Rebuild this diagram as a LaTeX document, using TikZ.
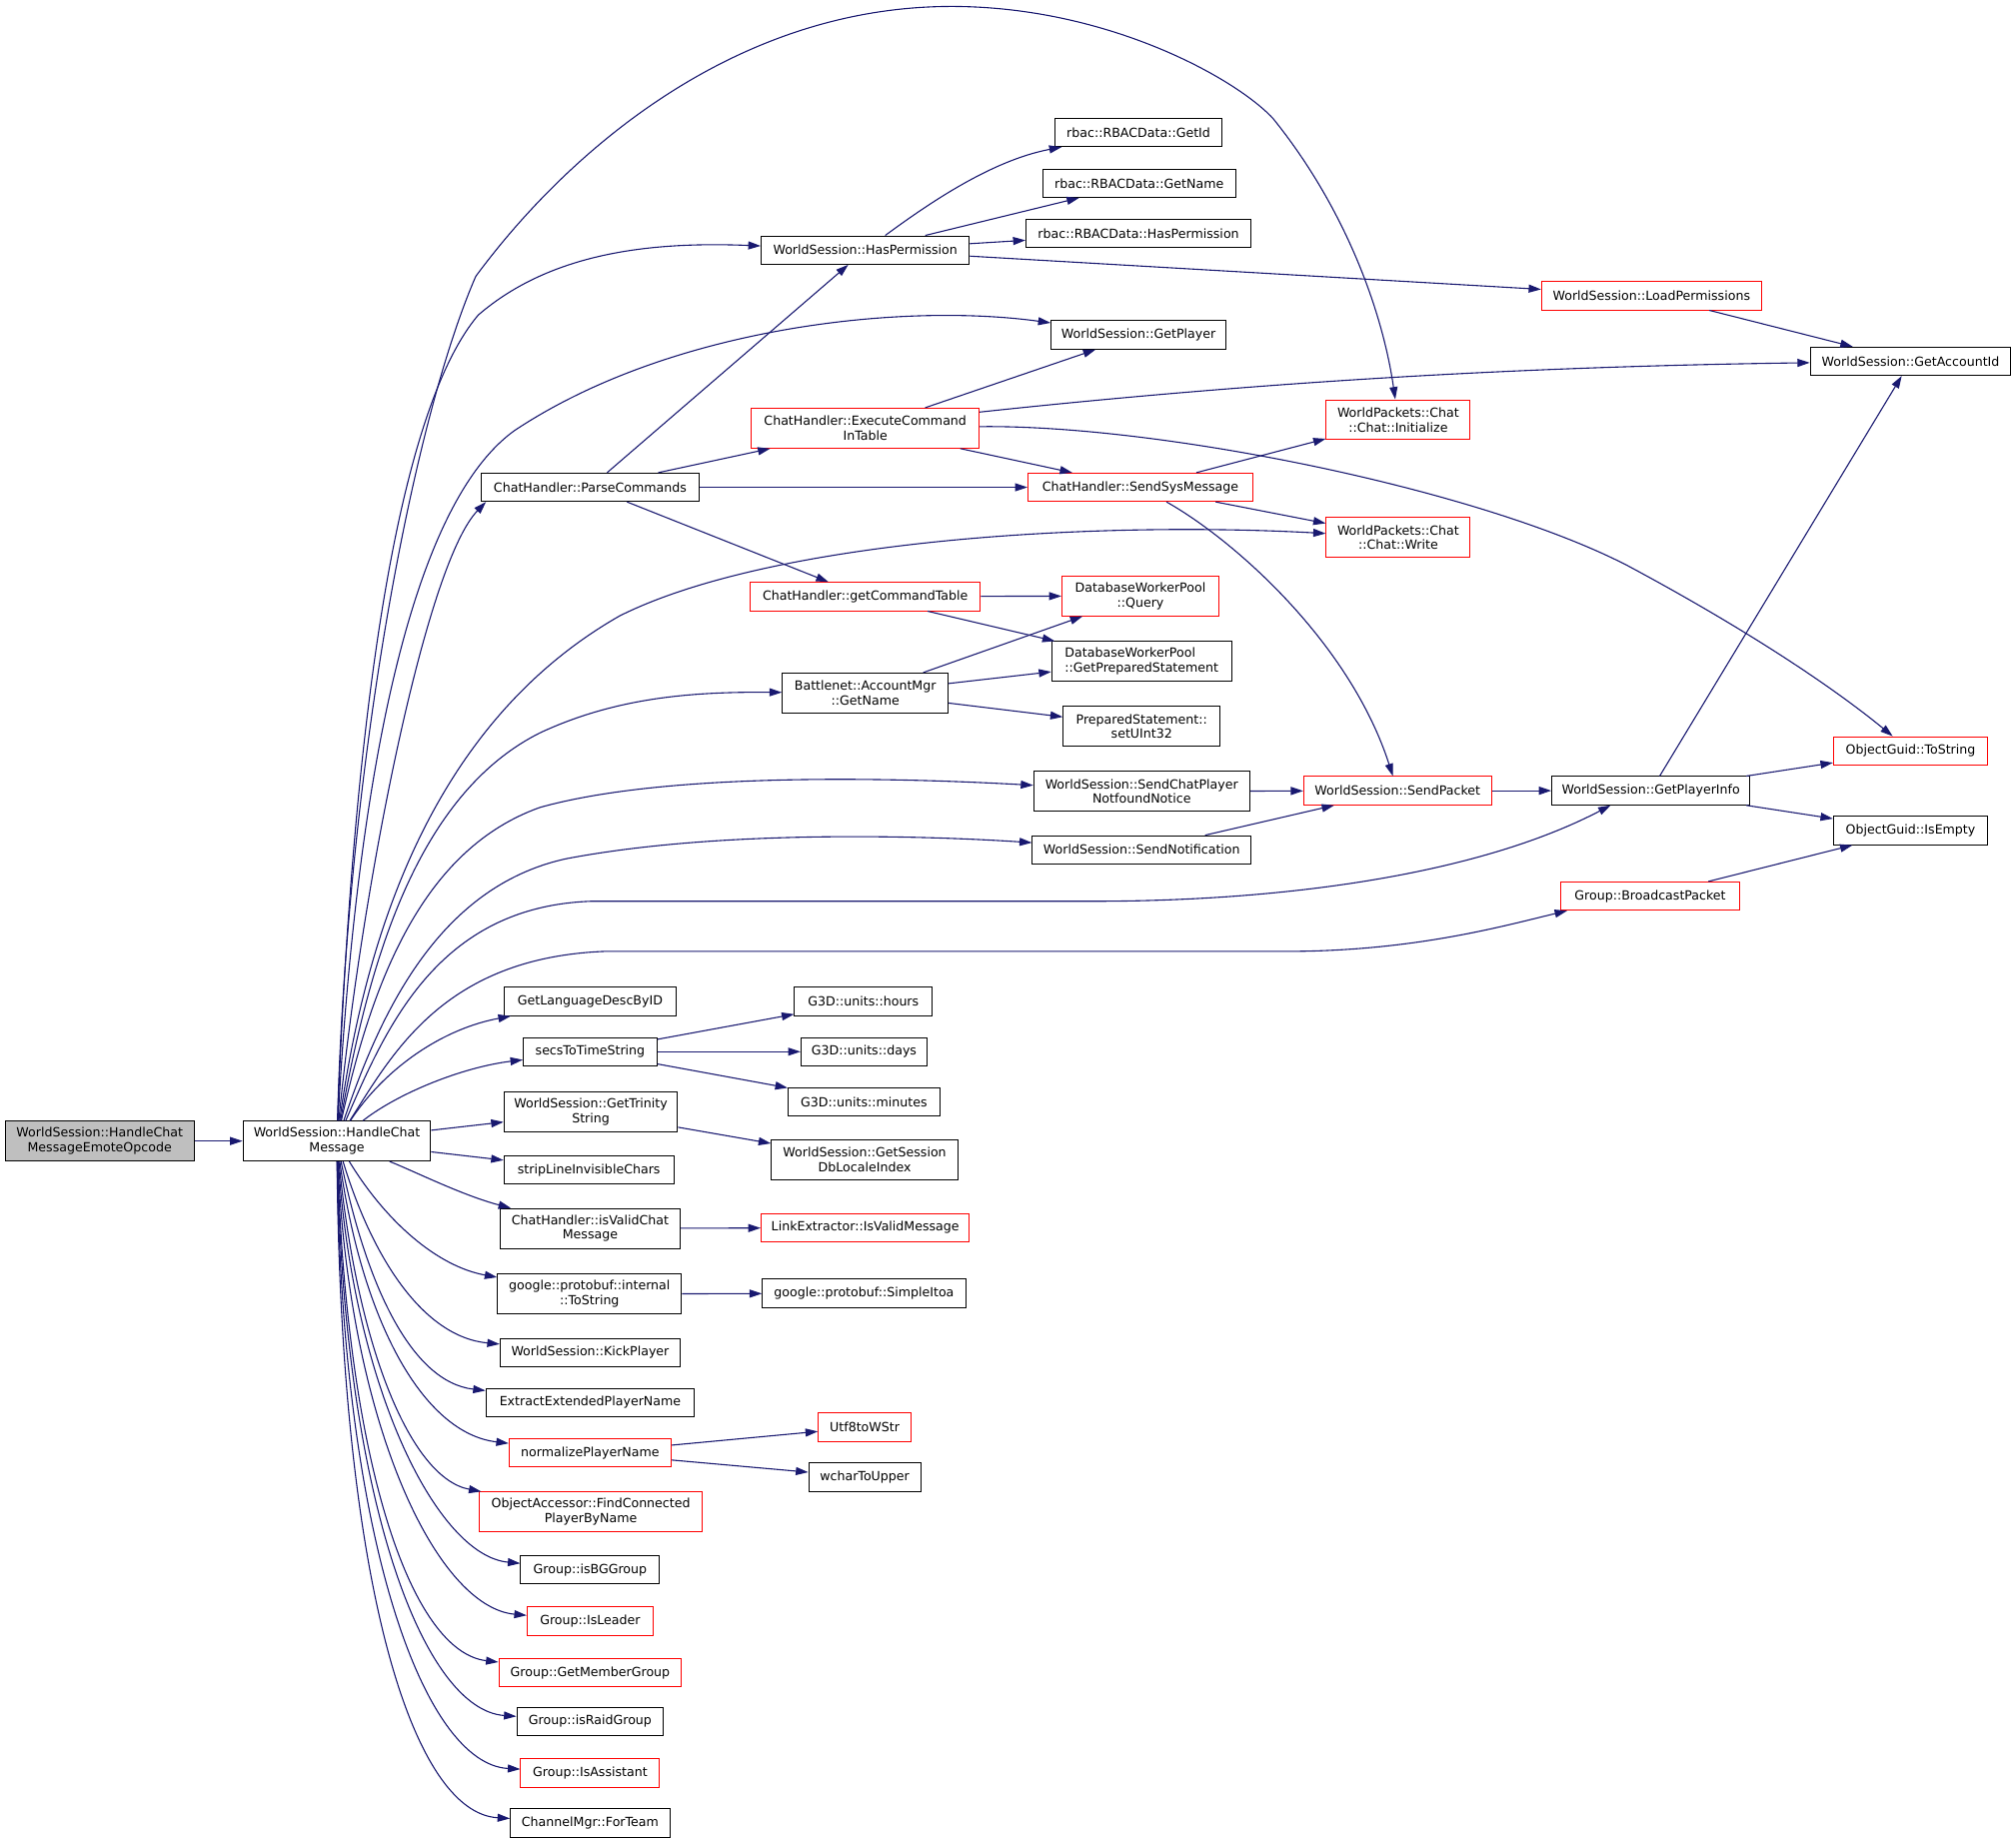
\documentclass[tikz,border=0pt]{standalone}
\usepackage{fontspec}
\setmainfont{DejaVu Sans}
\usetikzlibrary{arrows.meta}
\definecolor{edgeblue}{RGB}{25,25,112}
\definecolor{rootgray}{RGB}{191,191,191}
\begin{document}
\begin{tikzpicture}[x=0.6432pt,y=0.6432pt,yscale=-1,xscale=1,
	fn/.style={draw=black,line width=0.5pt,fill=white,font=\fontsize{6.3}{7.4}\selectfont,align=center,inner xsep=2pt,inner ysep=2pt,minimum height=22*0.6432pt,minimum width=#1*0.6432pt},
	fnred/.style={fn=#1,draw=red},
	twoline/.style={minimum height=31*0.6432pt},
	callarrow/.style={draw=edgeblue,line width=0.55pt,-{Triangle[length=6.2pt,width=4pt]}}]
	\useasboundingbox (0,0) rectangle (1568,1434);
	\node[fn=147,twoline,fill=rootgray] (hcmeo) at (77.5,887.5) {WorldSession::HandleChat\\MessageEmoteOpcode};
	\node[fn=146,twoline] (hcm) at (262,887.5) {WorldSession::HandleChat\\Message};
	\node[fn=162] (hasperm) at (673,194.5) {WorldSession::HasPermission};
	\node[fn=130] (getid) at (885.5,103) {rbac::RBACData::GetId};
	\node[fn=150] (getname) at (886,142.5) {rbac::RBACData::GetName};
	\node[fn=175] (rbachasperm) at (885.5,181.5) {rbac::RBACData::HasPermission};
	\node[fnred=171] (loadperm) at (1284.5,230) {WorldSession::LoadPermissions};
	\node[fn=136] (getplayer) at (885.5,260.5) {WorldSession::GetPlayer};
	\node[fn=156] (getaccountid) at (1486,281) {WorldSession::GetAccountId};
	\node[fnred=177,twoline] (execcmd) at (673,333) {ChatHandler::ExecuteCommand\\InTable};
	\node[fnred=112,twoline] (initialize) at (1087.5,326.5) {WorldPackets::Chat\\::Chat::Initialize};
	\node[fn=170] (parsecmd) at (459,379) {ChatHandler::ParseCommands};
	\node[fnred=175] (sendsys) at (887,379) {ChatHandler::SendSysMessage};
	\node[fnred=112,twoline] (chatwrite) at (1087.5,418) {WorldPackets::Chat\\::Chat::Write};
	\node[fnred=179] (getcmdtable) at (673,464) {ChatHandler::getCommandTable};
	\node[fnred=122,twoline] (dbquery) at (887,463.5) {DatabaseWorkerPool\\::Query};
	\node[fn=140,twoline,align=left] (getprepstmt) at (888,514.5) {DatabaseWorkerPool\\::GetPreparedStatement};
	\node[fn=129,twoline] (bnetgetname) at (673,539) {Battlenet::AccountMgr\\::GetName};
	\node[fn=122,twoline] (setuint32) at (888,565) {PreparedStatement::\\setUInt32};
	\node[fnred=120] (guidtostring) at (1486,584) {ObjectGuid::ToString};
	\node[fn=168,twoline] (sendchatpnf) at (888,615.5) {WorldSession::SendChatPlayer\\NotfoundNotice};
	\node[fnred=146] (sendpacket) at (1087,615) {WorldSession::SendPacket};
	\node[fn=154] (getplayerinfo) at (1284,615) {WorldSession::GetPlayerInfo};
	\node[fn=120] (guidisempty) at (1486,646) {ObjectGuid::IsEmpty};
	\node[fn=170] (sendnotif) at (888,661) {WorldSession::SendNotification};
	\node[fnred=139] (broadcast) at (1283.5,697) {Group::BroadcastPacket};
	\node[fn=134] (getlang) at (459,779) {GetLanguageDescByID};
	\node[fn=107] (g3dhours) at (671.5,779) {G3D::units::hours};
	\node[fn=104] (secstotime) at (459,818) {secsToTimeString};
	\node[fn=98] (g3ddays) at (672,818) {G3D::units::days};
	\node[fn=118] (g3dminutes) at (672,857) {G3D::units::minutes};
	\node[fn=135,twoline] (gettrinity) at (459.5,865) {WorldSession::GetTrinity\\String};
	\node[fn=145,twoline] (getsessiondb) at (672.5,902) {WorldSession::GetSession\\DbLocaleIndex};
	\node[fn=132] (stripline) at (458,910) {stripLineInvisibleChars};
	\node[fn=140,twoline] (isvalidchat) at (459,955.5) {ChatHandler::isValidChat\\Message};
	\node[fnred=162] (linkextr) at (673,955) {LinkExtractor::IsValidMessage};
	\node[fn=143,twoline] (pbtostring) at (458.5,1006.5) {google::protobuf::internal\\::ToString};
	\node[fn=158] (simpleitoa) at (672,1006) {google::protobuf::SimpleItoa};
	\node[fn=140] (kickplayer) at (459,1052) {WorldSession::KickPlayer};
	\node[fn=162] (extractext) at (459,1091) {ExtractExtendedPlayerName};
	\node[fnred=72] (utf8wstr) at (672.5,1110) {Utf8toWStr};
	\node[fnred=126] (normalize) at (459,1130) {normalizePlayerName};
	\node[fn=87] (wcharupper) at (672.5,1149) {wcharToUpper};
	\node[fnred=173,twoline] (findconn) at (459.5,1176) {ObjectAccessor::FindConnected\\PlayerByName};
	\node[fn=108] (isbg) at (459,1221) {Group::isBGGroup};
	\node[fnred=98] (isleader) at (459,1261) {Group::IsLeader};
	\node[fnred=142] (getmember) at (459,1301) {Group::GetMemberGroup};
	\node[fn=114] (israid) at (459,1339) {Group::isRaidGroup};
	\node[fnred=108] (isassist) at (459,1379) {Group::IsAssistant};
	\node[fn=124] (forteam) at (459,1418) {ChannelMgr::ForTeam};
	\draw[callarrow] (hcmeo) -- (hcm);
	\draw[callarrow] (hcm) .. controls (270,600) and (320,330) .. (370,215) .. controls (440,120) and (570,5) .. (740,5) .. controls (860,5) and (960,60) .. (990,92) .. controls (1045,160) and (1075,240) .. (initialize);
	\draw[callarrow] (hcm) .. controls (272,620) and (300,330) .. (372,245) .. controls (430,195) and (510,188) .. (hasperm);
	\draw[callarrow] (hcm) .. controls (275,650) and (310,400) .. (400,335) .. controls (520,255) and (700,235) .. (getplayer);
	\draw[callarrow] (hcm) .. controls (280,700) and (330,440) .. (parsecmd.188);
	\draw[callarrow] (hcm) .. controls (285,720) and (340,560) .. (482,479) .. controls (600,420) and (850,405) .. (chatwrite);
	\draw[callarrow] (hcm) .. controls (285,760) and (320,620) .. (420,570) .. controls (480,542) and (540,538) .. (bnetgetname);
	\draw[callarrow] (hcm) .. controls (290,760) and (330,660) .. (420,628) .. controls (520,600) and (700,605) .. (sendchatpnf);
	\draw[callarrow] (hcm) .. controls (295,790) and (340,690) .. (440,668) .. controls (560,645) and (720,650) .. (sendnotif);
	\draw[callarrow] (hcm) .. controls (300,800) and (340,705) .. (460,701) -- (850,701) .. controls (1000,701) and (1150,680) .. (getplayerinfo.200);
	\draw[callarrow] (hcm) .. controls (305,820) and (345,745) .. (470,740) -- (1000,740) .. controls (1100,740) and (1170,720) .. (broadcast.190);
	\draw[callarrow] (hasperm) .. controls (720,160) and (770,125) .. (getid);
	\draw[callarrow] (hasperm) -- (getname);
	\draw[callarrow] (hasperm) -- (rbachasperm);
	\draw[callarrow] (hasperm) -- (loadperm);
	\draw[callarrow] (loadperm) -- (getaccountid);
	\draw[callarrow] (parsecmd) -- (hasperm);
	\draw[callarrow] (parsecmd) -- (execcmd);
	\draw[callarrow] (parsecmd) -- (sendsys);
	\draw[callarrow] (parsecmd) -- (getcmdtable);
	\draw[callarrow] (execcmd) -- (getplayer);
	\draw[callarrow] (execcmd.8) .. controls (1000,295) and (1200,285) .. (getaccountid);
	\draw[callarrow] (execcmd) -- (sendsys);
	\draw[callarrow] (execcmd) .. controls (900,330) and (1150,380) .. (1266,440) .. controls (1350,485) and (1420,530) .. (guidtostring);
	\draw[callarrow] (sendsys) -- (initialize);
	\draw[callarrow] (sendsys) -- (chatwrite);
	\draw[callarrow] (sendsys) .. controls (960,420) and (1050,500) .. (sendpacket);
	\draw[callarrow] (getcmdtable) -- (dbquery);
	\draw[callarrow] (getcmdtable) -- (getprepstmt);
	\draw[callarrow] (bnetgetname) -- (dbquery);
	\draw[callarrow] (bnetgetname) -- (getprepstmt);
	\draw[callarrow] (bnetgetname) -- (setuint32);
	\draw[callarrow] (sendchatpnf) -- (sendpacket);
	\draw[callarrow] (sendnotif) -- (sendpacket);
	\draw[callarrow] (sendpacket) -- (getplayerinfo);
	\draw[callarrow] (getplayerinfo) -- (getaccountid);
	\draw[callarrow] (getplayerinfo) -- (guidtostring);
	\draw[callarrow] (getplayerinfo) -- (guidisempty);
	\draw[callarrow] (broadcast) -- (guidisempty);
	\draw[callarrow] (hcm) .. controls (300,830) and (345,800) .. (getlang);
	\draw[callarrow] (hcm) .. controls (310,850) and (360,830) .. (secstotime);
	\draw[callarrow] (hcm) -- (gettrinity);
	\draw[callarrow] (hcm) -- (stripline);
	\draw[callarrow] (hcm) .. controls (320,910) and (360,930) .. (isvalidchat);
	\draw[callarrow] (hcm) .. controls (300,950) and (340,985) .. (pbtostring);
	\draw[callarrow] (hcm) .. controls (290,980) and (330,1040) .. (kickplayer);
	\draw[callarrow] (hcm) .. controls (285,1000) and (320,1075) .. (extractext);
	\draw[callarrow] (hcm) .. controls (282,1030) and (330,1115) .. (normalize);
	\draw[callarrow] (hcm) .. controls (278,1050) and (320,1150) .. (findconn);
	\draw[callarrow] (hcm) .. controls (275,1080) and (340,1210) .. (isbg);
	\draw[callarrow] (hcm) .. controls (272,1110) and (340,1250) .. (isleader);
	\draw[callarrow] (hcm) .. controls (270,1140) and (320,1285) .. (getmember);
	\draw[callarrow] (hcm) .. controls (268,1170) and (330,1330) .. (israid);
	\draw[callarrow] (hcm) .. controls (266,1200) and (330,1372) .. (isassist);
	\draw[callarrow] (hcm) .. controls (265,1230) and (320,1410) .. (forteam);
	\draw[callarrow] (secstotime) -- (g3dhours);
	\draw[callarrow] (secstotime) -- (g3ddays);
	\draw[callarrow] (secstotime) -- (g3dminutes);
	\draw[callarrow] (gettrinity) -- (getsessiondb);
	\draw[callarrow] (isvalidchat) -- (linkextr);
	\draw[callarrow] (pbtostring) -- (simpleitoa);
	\draw[callarrow] (normalize) -- (utf8wstr);
	\draw[callarrow] (normalize) -- (wcharupper);
\end{tikzpicture}
\end{document}
